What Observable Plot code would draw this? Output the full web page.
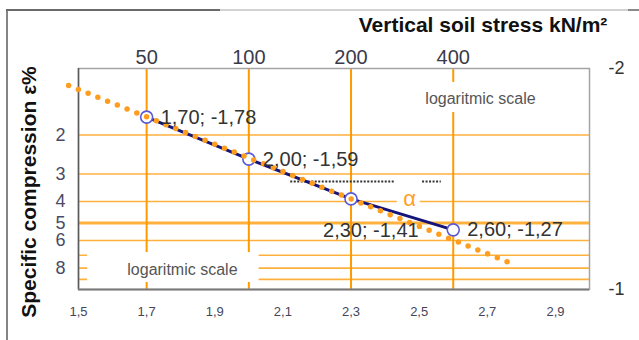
<!DOCTYPE html>
<html><head><meta charset="utf-8">
<script src="https://cdn.jsdelivr.net/npm/d3@7"></script>
<script src="https://cdn.jsdelivr.net/npm/@observablehq/plot@0.6"></script>
<style>
body{margin:0;background:#fff;}
#wrap{position:relative;width:639px;height:340px;overflow:hidden;font-family:"Liberation Sans",Arial,sans-serif;}
#wrap svg{position:absolute;left:0;top:0;}
.bl{position:absolute;left:6px;top:9px;width:2px;height:331px;background:#858585;}
.bt1{position:absolute;left:6px;top:9px;width:214px;height:2px;background:#6a6a6a;}
.bt2{position:absolute;left:220px;top:9px;width:408px;height:2px;background:#d2d2d2;}
.bt3{position:absolute;left:628px;top:9px;width:11px;height:2px;background:#8a8a8a;}
</style></head><body>
<div id="wrap"><div class="bl"></div><div class="bt1"></div><div class="bt2"></div><div class="bt3"></div></div>
<script>
// Measured points: x = log10(stress), y = log10(strain)
const pointX = [1.70, 2.00, 2.30, 2.60];
const pointY = [-1.78, -1.59, -1.41, -1.27];
// Dotted orange trend line (end points)
const trendX = [1.471, 2.771];
const trendY = [-1.923, -1.118];
// Top axis: vertical soil stress kN/m2
const stressTicks = [1.7, 2.0, 2.3, 2.6];
const stressLabels = ["50", "100", "200", "400"];
// Bottom axis ticks
const bottomTicks = [1.5, 1.7, 1.9, 2.1, 2.3, 2.5, 2.7, 2.9];
// Left axis: specific compression ε% (log scale)
const epsGrid = [2, 3, 4, 5, 6, 7, 8, 9];
const epsLabels = [2, 3, 4, 5, 6, 8];
// Right axis ticks
const rightTicks = [-2, -1];
// Annotations
const noteText = ["logaritmic scale", "logaritmic scale"];
const noteX = [1.805, 2.68];
const noteY = [-1.09, -1.864];
const boxX1 = [1.527, 2.475, 2.436];
const boxX2 = [2.03, 2.88, 2.503];
const boxY1 = [-1.167, -1.937, -1.457];
const boxY2 = [-1.032, -1.801, -1.367];
const alphaX = [2.472];
const alphaY = [-1.41];
const hintX1 = [2.123, 2.51];
const hintX2 = [2.43, 2.565];
const hintY = [-1.489, -1.489];

const points = pointX.map((x, i) => ({x, y: pointY[i], i}));
const trend = trendX.map((x, i) => ({x, y: trendY[i]}));
const boxes = boxX1.map((x1, i) => ({x1, x2: boxX2[i], y1: boxY1[i], y2: boxY2[i]}));
const notes = noteText.map((t, i) => ({t, x: noteX[i], y: noteY[i]}));
const hints = hintX1.map((x1, i) => ({x1, x2: hintX2[i], y: hintY[i]}));
const fmt = v => v.toFixed(2).replace(".", ",");
const lab = d => `${fmt(d.x)}; ${fmt(d.y)}`;
const logEps = e => Math.log10(e / 100);

const chart = Plot.plot({
  width: 639, height: 340,
  marginLeft: 78, marginRight: 50, marginTop: 68, marginBottom: 51,
  style: {background: "transparent", fontFamily: "Liberation Sans, Arial, sans-serif", overflow: "visible"},
  x: {type: "linear", domain: [1.5, 3.0]},
  y: {type: "linear", domain: [-2, -1], reverse: true},
  marks: [
    Plot.ruleY(epsGrid, {y: logEps, stroke: "#ffb13d", strokeWidth: d => d === 5 ? 3 : 1.6}),
    Plot.ruleX(stressTicks, {stroke: "#ff9a00", strokeWidth: 2}),
    Plot.rect(boxes, {x1: "x1", x2: "x2", y1: "y1", y2: "y2", fill: "white"}),
    Plot.frame({stroke: "#a4a4a4", strokeWidth: 1.5}),
    Plot.ruleX([1.5], {stroke: "#5a5a5a", strokeWidth: 1.5}),
    Plot.ruleY([-1], {stroke: "#7a7a7a", strokeWidth: 2}),
    Plot.text(notes, {x: "x", y: "y", text: "t", fontSize: 16, fill: "#555"}),
    Plot.text(alphaX.map((x, i) => ({x, y: alphaY[i]})), {x: "x", y: "y", text: () => "α", fontSize: 22, fill: "#ffa126"}),
    Plot.ruleY(hints, {x1: "x1", x2: "x2", y: "y", stroke: "#333", strokeWidth: 2, strokeDasharray: "2,1.5"}),
    Plot.line(points, {x: "x", y: "y", stroke: "#14147a", strokeWidth: 3}),
    Plot.dot(points, {x: "x", y: "y", r: 6, stroke: "#5a5ad6", fill: "white", strokeWidth: 1.6}),
    Plot.line(trend, {x: "x", y: "y", stroke: "#ff9d1f", strokeWidth: 5.5, strokeDasharray: "0,10.5", strokeLinecap: "round"}),
    Plot.text(points.filter(d => d.i !== 2), {x: "x", y: "y", text: lab, textAnchor: "start", dx: 14, fontSize: 20, fill: "#333"}),
    Plot.text(points.filter(d => d.i === 2), {x: "x", y: "y", text: lab, textAnchor: "start", dx: -28, dy: 32, fontSize: 20, fill: "#333"}),
    Plot.axisX({anchor: "top", ticks: stressTicks, tickFormat: d => stressLabels[stressTicks.indexOf(d)], tickSize: 0, tickPadding: 5, fontSize: 20, fill: "#3a3a4a", label: null}),
    Plot.axisX({anchor: "bottom", ticks: bottomTicks, tickFormat: d => d.toFixed(1).replace(".", ","), tickSize: 0, tickPadding: 17, fontSize: 13, fill: "#45455a", label: null}),
    Plot.axisY({anchor: "left", ticks: epsLabels.map(logEps), tickFormat: d => String(Math.round(Math.pow(10, d) * 100)), tickSize: 0, tickPadding: 13, fontSize: 18, fill: "#4a4a66", label: null}),
    Plot.axisY({anchor: "right", ticks: rightTicks, tickFormat: d => String(d), tickSize: 0, tickPadding: 19, fontSize: 18, fill: "#333", label: null}),
    Plot.text(["Vertical soil stress kN/m²"], {frameAnchor: "top", textAnchor: "middle", lineAnchor: "middle", dx: 149, dy: -43, fontSize: 21, fontWeight: "bold", fill: "#111"}),
    Plot.text(["Specific compression ε%"], {frameAnchor: "left", textAnchor: "middle", lineAnchor: "middle", rotate: -90, dx: -49, dy: 13, fontSize: 21, fontWeight: "bold", fill: "#111"})
  ]
});
document.getElementById("wrap").appendChild(chart);
</script>
</body></html>
